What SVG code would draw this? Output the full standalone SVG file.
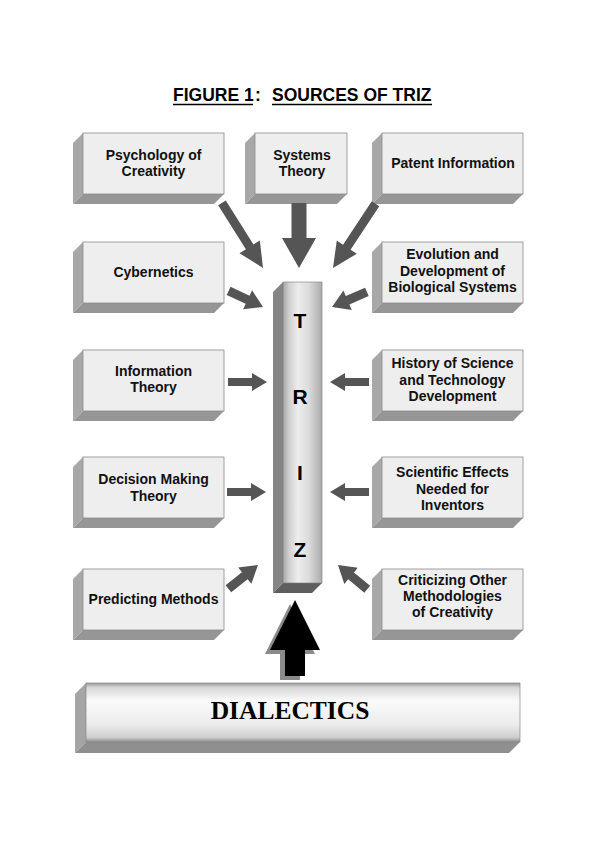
<svg xmlns="http://www.w3.org/2000/svg" xmlns:xlink="http://www.w3.org/1999/xlink" width="595" height="842" viewBox="0 0 595 842">
<style>
.front{fill:#eeeeee;stroke:#8a8a8a;stroke-width:0.8}
.side{fill:#a8a8a8}
.bot{fill:#969696}
.lbl{font-family:"Liberation Sans",Arial,sans-serif;font-weight:bold;font-size:14px;fill:#111;text-anchor:middle}
.arr{fill:#555555}
.title{font-family:"Liberation Sans",Arial,sans-serif;font-weight:bold;font-size:17.5px;fill:#000}
.big{font-family:"Liberation Sans",Arial,sans-serif;font-weight:bold;font-size:21px;fill:#000;text-anchor:middle}
</style>
<defs>
<polygon id="aH" points="-39,-4 -15,-4 -15,-9 0,0 -15,9 -15,4 -39,4"/>
<polygon id="aD" points="-38,-4.5 -17,-4.5 -17,-10.5 0,0 -17,10.5 -17,4.5 -38,4.5"/>
<polygon id="aL" points="-77,-4.5 -25,-4.5 -25,-12 0,0 -25,12 -25,4.5 -77,4.5"/>
<linearGradient id="gP" x1="0" y1="0" x2="1" y2="0">
<stop offset="0" stop-color="#a5a5a5"/>
<stop offset="0.15" stop-color="#cfcfcf"/>
<stop offset="0.38" stop-color="#ededed"/>
<stop offset="0.65" stop-color="#dcdcdc"/>
<stop offset="1" stop-color="#ababab"/>
</linearGradient>
<linearGradient id="gD" x1="0" y1="0" x2="0" y2="1">
<stop offset="0" stop-color="#9a9a9a"/>
<stop offset="0.08" stop-color="#d8d8d8"/>
<stop offset="0.3" stop-color="#fafafa"/>
<stop offset="0.7" stop-color="#ececec"/>
<stop offset="0.92" stop-color="#cfcfcf"/>
<stop offset="1" stop-color="#8e8e8e"/>
</linearGradient>
</defs>
<rect width="595" height="842" fill="#ffffff"/>

<g id="title">
<text class="title" x="173" y="101">FIGURE 1</text>
<text class="title" x="255" y="101">:</text>
<text class="title" x="272" y="101">SOURCES OF TRIZ</text>
<line x1="173" y1="104.5" x2="253" y2="104.5" stroke="#000" stroke-width="1.5"/>
<line x1="272" y1="104.5" x2="432" y2="104.5" stroke="#000" stroke-width="1.5"/>
</g>

<g id="psychology">
<polygon class="side" points="83,133 73,143 73,204 83,194"/>
<polygon class="bot" points="83,194 224,194 214,204 73,204"/>
<rect class="front" x="83" y="133" width="141" height="61"/>
<text class="lbl" x="153.5" y="160">Psychology of</text>
<text class="lbl" x="153.5" y="176">Creativity</text>
</g>

<g id="systems">
<polygon class="side" points="255,133 245,143 245,204 255,194"/>
<polygon class="bot" points="255,194 347,194 337,204 245,204"/>
<rect class="front" x="255" y="133" width="92" height="61"/>
<text class="lbl" x="302" y="160">Systems</text>
<text class="lbl" x="302" y="176">Theory</text>
</g>

<g id="patent">
<polygon class="side" points="382,133 372,143 372,204 382,194"/>
<polygon class="bot" points="382,194 523,194 513,204 372,204"/>
<rect class="front" x="382" y="133" width="141" height="61"/>
<text class="lbl" x="453" y="168">Patent Information</text>
</g>

<g id="cybernetics">
<polygon class="side" points="83,242 73,252 73,313 83,303"/>
<polygon class="bot" points="83,303 224,303 214,313 73,313"/>
<rect class="front" x="83" y="242" width="141" height="61"/>
<text class="lbl" x="153.5" y="277">Cybernetics</text>
</g>

<g id="evolution">
<polygon class="side" points="382,242 372,252 372,313 382,303"/>
<polygon class="bot" points="382,303 523,303 513,313 372,313"/>
<rect class="front" x="382" y="242" width="141" height="61"/>
<text class="lbl" x="452.5" y="259">Evolution and</text>
<text class="lbl" x="452.5" y="275.5">Development of</text>
<text class="lbl" x="452.5" y="292">Biological Systems</text>
</g>

<g id="information">
<polygon class="side" points="83,350 73,360 73,421 83,411"/>
<polygon class="bot" points="83,411 224,411 214,421 73,421"/>
<rect class="front" x="83" y="350" width="141" height="61"/>
<text class="lbl" x="153.5" y="376">Information</text>
<text class="lbl" x="153.5" y="392">Theory</text>
</g>

<g id="history">
<polygon class="side" points="382,350 372,360 372,421 382,411"/>
<polygon class="bot" points="382,411 523,411 513,421 372,421"/>
<rect class="front" x="382" y="350" width="141" height="61"/>
<text class="lbl" x="452.5" y="368">History of Science</text>
<text class="lbl" x="452.5" y="384.5">and Technology</text>
<text class="lbl" x="452.5" y="401">Development</text>
</g>

<g id="decision">
<polygon class="side" points="83,457 73,467 73,528 83,518"/>
<polygon class="bot" points="83,518 224,518 214,528 73,528"/>
<rect class="front" x="83" y="457" width="141" height="61"/>
<text class="lbl" x="153.5" y="484">Decision Making</text>
<text class="lbl" x="153.5" y="500.5">Theory</text>
</g>

<g id="scientific">
<polygon class="side" points="382,457 372,467 372,528 382,518"/>
<polygon class="bot" points="382,518 523,518 513,528 372,528"/>
<rect class="front" x="382" y="457" width="141" height="61"/>
<text class="lbl" x="452.5" y="477">Scientific Effects</text>
<text class="lbl" x="452.5" y="493.5">Needed for</text>
<text class="lbl" x="452.5" y="510">Inventors</text>
</g>

<g id="predicting">
<polygon class="side" points="83,569 73,579 73,640 83,630"/>
<polygon class="bot" points="83,630 224,630 214,640 73,640"/>
<rect class="front" x="83" y="569" width="141" height="61"/>
<text class="lbl" x="153.5" y="604">Predicting Methods</text>
</g>

<g id="criticizing">
<polygon class="side" points="382,569 372,579 372,640 382,630"/>
<polygon class="bot" points="382,630 523,630 513,640 372,640"/>
<rect class="front" x="382" y="569" width="141" height="61"/>
<text class="lbl" x="452.5" y="585">Criticizing Other</text>
<text class="lbl" x="452.5" y="601">Methodologies</text>
<text class="lbl" x="452.5" y="617">of Creativity</text>
</g>

<g id="triz">
<polygon points="283,282 273,292 273,593 283,583" fill="#858585"/>
<polygon points="283,583 322,583 312,593 273,593" fill="#5e5e5e"/>
<rect x="283" y="282" width="39" height="301" fill="url(#gP)" stroke="#7a7a7a" stroke-width="0.6"/>
<text class="big" x="300" y="328">T</text>
<text class="big" x="300" y="404">R</text>
<text class="big" x="300" y="480">I</text>
<text class="big" x="300" y="557">Z</text>
</g>

<g id="dialectics">
<polygon points="86,683 75,694 75,753 86,742" fill="#a5a5a5"/>
<polygon points="86,742 520,742 509,753 75,753" fill="#8f8f8f"/>
<rect x="86" y="683" width="434" height="59" fill="url(#gD)" stroke="#888" stroke-width="0.7"/>
<text x="290" y="719" font-family="'Liberation Serif','Times New Roman',serif" font-weight="bold" font-size="25.5" text-anchor="middle" fill="#000">DIALECTICS</text>
</g>

<g id="connectors">
<use href="#aL" class="arr" transform="translate(263,268) rotate(57.8)"/>
<polygon class="arr" points="291.5,203 306.5,203 306.5,238 316,238 299,268 282,238 291.5,238"/>
<use href="#aL" class="arr" transform="translate(333,268) rotate(123.5)"/>
<use href="#aD" class="arr" transform="translate(263,307) rotate(25.2)"/>
<use href="#aD" class="arr" transform="translate(332,307) rotate(156.6)"/>
<use href="#aH" class="arr" transform="translate(267,382)"/>
<use href="#aH" class="arr" transform="translate(330,382) rotate(180)"/>
<use href="#aH" class="arr" transform="translate(266,492)"/>
<use href="#aH" class="arr" transform="translate(330,492) rotate(180)"/>
<use href="#aD" class="arr" transform="translate(258,565) rotate(-38.9)"/>
<use href="#aD" class="arr" transform="translate(338,565) rotate(-140.2)"/>
<polygon points="295,600 320,650 305,650 305,676 285,676 285,650 270,650" fill="#8a8a8a" transform="translate(-5,4)"/>
<polygon points="295,600 320,650 305,650 305,676 285,676 285,650 270,650" fill="#000"/>
</g>
</svg>
